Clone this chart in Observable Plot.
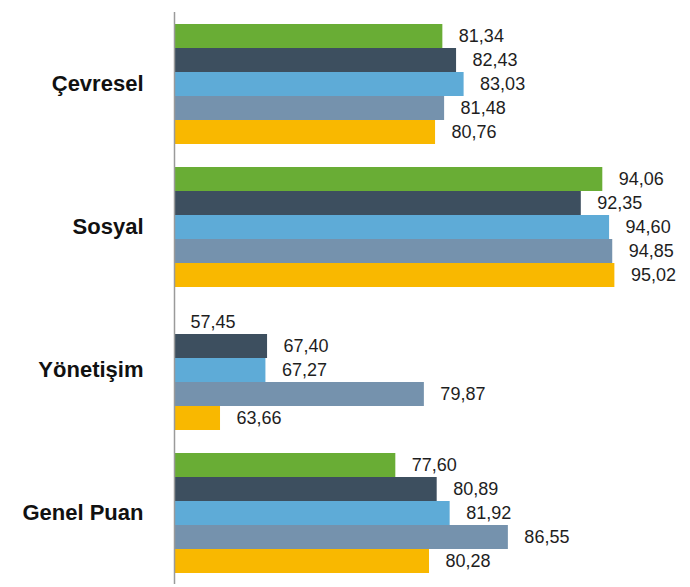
<!DOCTYPE html>
<html><head><meta charset="utf-8">
<script src="https://cdn.jsdelivr.net/npm/d3@7"></script>
<script src="https://cdn.jsdelivr.net/npm/@observablehq/plot@0.6"></script>
<style>body{margin:0;background:#fff} #chart svg{display:block}</style>
</head><body><div id="chart"></div>
<script>
const categories = ["Çevresel", "Sosyal", "Yönetişim", "Genel Puan"];
const series = ["Seri 1", "Seri 2", "Seri 3", "Seri 4", "Seri 5"];
const colors = ["#69ad35", "#3d4f5f", "#5eabd7", "#7592ad", "#f9b800"];
const cevresel = [81.34, 82.43, 83.03, 81.48, 80.76];
const sosyal = [94.06, 92.35, 94.60, 94.85, 95.02];
const yonetisim = [57.45, 67.40, 67.27, 79.87, 63.66];
const genelPuan = [77.60, 80.89, 81.92, 86.55, 80.28];
const xDomain = [60, 100];

const rows = [cevresel, sosyal, yonetisim, genelPuan].flatMap((vals, i) =>
  vals.map((v, j) => ({category: categories[i], series: series[j], value: v})));
const fmt = v => v.toFixed(2).replace(".", ",");

const chart = Plot.plot({
  width: 690, height: 587,
  marginLeft: 174, marginRight: 13, marginTop: 10, marginBottom: 2,
  style: {fontFamily: "'Liberation Sans', Arial, sans-serif", background: "#fff", overflow: "hidden"},
  x: {domain: xDomain, clamp: true, axis: null},
  y: {domain: series, axis: null, paddingInner: 0, paddingOuter: 0.374},
  fy: {domain: categories, padding: 0},
  color: {domain: series, range: colors},
  marks: [
    Plot.barX(rows, {fy: "category", y: "series", x1: xDomain[0], x2: "value", fill: "series"}),
    Plot.text(rows, {fy: "category", y: "series", x: "value", text: d => fmt(d.value),
      textAnchor: "start", dx: 16, fontSize: 18, fill: "#1e1e1e"}),
    Plot.ruleX([xDomain[0]], {stroke: "#9a9a9a", strokeWidth: 1.5}),
    Plot.axisFy({anchor: "left", tickSize: 0, tickPadding: 31, fontSize: 22,
      fontWeight: "bold", fill: "#111", label: null})
  ]
});
document.getElementById("chart").append(chart);
</script>
</body></html>
